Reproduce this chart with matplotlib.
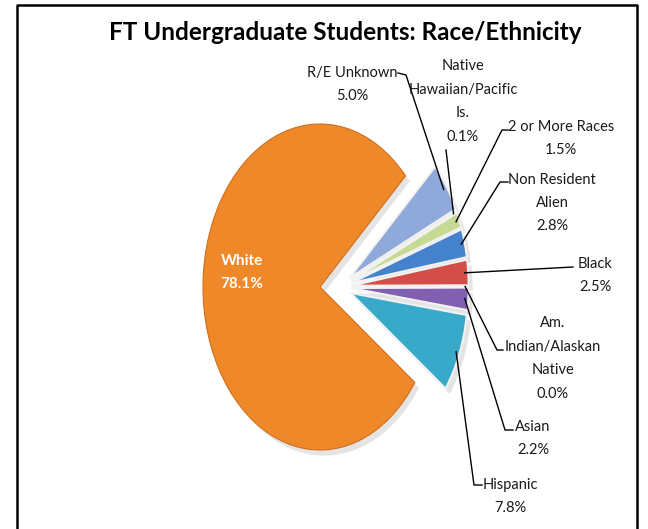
import matplotlib
matplotlib.use("Agg")
import matplotlib.pyplot as plt
import matplotlib.patches as mpatches
import matplotlib.transforms as mtransforms
import numpy as np

# data, clockwise from the top of the exploded group
categories = ["R/E Unknown", "Native\nHawaiian/Pacific\nIs.", "2 or More Races",
              "Non Resident\nAlien", "Black", "Am.\nIndian/Alaskan\nNative",
              "Asian", "Hispanic", "White"]
shares = [5.0, 0.1, 1.5, 2.8, 2.5, 0.0, 2.2, 7.8, 78.1]
colors = ["#8FAADA", "#D99694", "#C6DA93", "#4482CE", "#D54D48", "#9BBB59",
          "#8160B2", "#38A9C8", "#EF8829"]

plt.rcParams['font.family'] = ['Lato', 'DejaVu Sans']

W, H = 648, 529
fig = plt.figure(figsize=(W / 100, H / 100), dpi=100)
ax = fig.add_axes([0, 0, 1, 1])

# pie centre and radii in pixels (pie is an upright ellipse)
cx, cy, rx, ry = 320, 287, 117, 163


def to_data(x, y):
    return (x - cx) / rx, (cy - y) / ry


explode = [0.1] * (len(shares) - 1) + [0]
wedges, _ = ax.pie(shares, colors=colors, startangle=43, counterclock=False,
                   explode=explode,
                   wedgeprops=dict(edgecolor="#F2F2F2", linewidth=1.4))
ax.set_aspect("auto")
ax.set_xlim(-cx / rx, (W - cx) / rx)
ax.set_ylim((cy - H) / ry, cy / ry)
ax.axis("off")

# push the small group out to the right together
for w in wedges[:-1]:
    c = w.center
    w.set_center((c[0] + 0.17, c[1]))
wedges[-1].set_edgecolor("#CF6F1C")
wedges[-1].set_linewidth(0.8)

# soft drop shadow
shift = mtransforms.ScaledTranslation(3 / 72, -4 / 72, fig.dpi_scale_trans)
for w in wedges:
    sh = mpatches.Wedge(w.center, w.r, w.theta1, w.theta2, facecolor="#888888",
                        edgecolor="none", alpha=0.22,
                        transform=ax.transData + shift, zorder=0)
    ax.add_patch(sh)
    w.set_zorder(1)

# label layout (pixels): text centre, then leader points toward the slice
label_pos = [(352, 84.5), (463, 101.5), (561, 138.5), (552, 203),
             (595, 275.5), (553, 358.5), (533, 438.5), (510, 496.5)]
leader_pts = [[(398, 73), (406, 75)], [(446, 150)], [(508, 130), (502, 130)],
              [(508, 182), (500, 182)], [(573, 267)], [(503, 350), (497, 350)],
              [(513, 430), (505, 430)], [(482, 485), (474, 485)]]

for i, w in enumerate(wedges[:-1]):
    tx, ty = to_data(*label_pos[i])
    ax.text(tx, ty, "{}\n{:.1f}%".format(categories[i], shares[i]),
            ha="center", va="center", fontsize=10.5, linespacing=1.85,
            color="#1a1a1a", zorder=3)
    mid = np.deg2rad((w.theta1 + w.theta2) / 2)
    ex = w.center[0] + 0.97 * w.r * np.cos(mid)
    ey = w.center[1] + 0.97 * w.r * np.sin(mid)
    pts = [to_data(*p) for p in leader_pts[i]] + [(ex, ey)]
    xs, ys = zip(*pts)
    ax.plot(xs, ys, color="black", lw=1.0, zorder=3)

wx, wy = to_data(242, 272.5)
ax.text(wx, wy, "{}\n{:.1f}%".format(categories[-1], shares[-1]),
        ha="center", va="center", fontsize=11, fontweight="bold",
        color="white", linespacing=1.75, zorder=3)

# title and outer frame
fig.text(345 / W, 1 - 32 / H, "FT Undergraduate Students: Race/Ethnicity",
         ha="center", va="center", fontsize=17.5, fontweight="bold")
frame_x = [17 / W, 17 / W, 637 / W, 637 / W]
frame_y = [0, 1 - 5 / H, 1 - 5 / H, 0]
fig.add_artist(plt.Line2D(frame_x, frame_y, color="black", lw=1.8,
                          transform=fig.transFigure))

fig.savefig("out.png", dpi=100)
